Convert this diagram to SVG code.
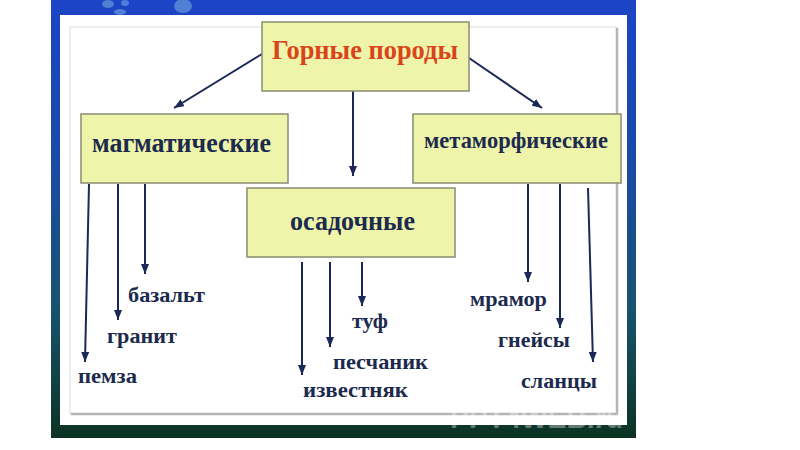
<svg xmlns="http://www.w3.org/2000/svg" width="800" height="450" viewBox="0 0 800 450">
<defs>
<linearGradient id="bg" x1="0" y1="0" x2="0" y2="1">
<stop offset="0" stop-color="#1c44c6"/>
<stop offset="0.35" stop-color="#1a4aa8"/>
<stop offset="0.7" stop-color="#175470"/>
<stop offset="1" stop-color="#0c3322"/>
</linearGradient>
<marker id="ah" viewBox="0 0 10 8" refX="10" refY="4" markerWidth="10" markerHeight="8" markerUnits="userSpaceOnUse" orient="auto">
<path d="M0,0 L10,4 L0,8 Z" fill="#1b2957"/>
</marker>
<style>
.box{fill:#eef5aa;stroke:#8a8c72;stroke-width:1.5}
.t{font-family:"Liberation Serif","DejaVu Serif",serif;font-weight:bold;fill:#1c2a4e}
.c line{stroke:#1b2957;stroke-width:2;marker-end:url(#ah)}
</style>
</defs>
<rect width="800" height="450" fill="#ffffff"/>
<rect x="51" y="0" width="585" height="438" fill="url(#bg)"/>
<g fill="#9fd8f0" opacity="0.4">
<ellipse cx="108" cy="4" rx="6" ry="4"/>
<ellipse cx="125" cy="3" rx="4" ry="3"/>
<ellipse cx="120" cy="12" rx="6" ry="3"/>
<ellipse cx="183" cy="6" rx="9" ry="7"/>
</g>
<rect x="60" y="15" width="567" height="410" fill="#ffffff"/>
<rect x="70" y="27" width="547" height="387" fill="#ffffff" stroke="#dcdcdc" stroke-width="1"/>
<path d="M617,28 V414 H71" fill="none" stroke="#b4b4b4" stroke-width="2.5"/>
<text x="450" y="428" font-family="'Liberation Sans',sans-serif" font-weight="bold" font-size="28" fill="#ffffff" opacity="0.35" textLength="173" lengthAdjust="spacingAndGlyphs">PPT4WEB.ru</text>

<g class="c" id="connectors">
<line x1="262" y1="54" x2="174" y2="108"/>
<line x1="469" y1="58" x2="542" y2="108"/>
<line x1="353" y1="91" x2="353" y2="176"/>
<line x1="145" y1="184" x2="145" y2="274"/>
<line x1="118" y1="184" x2="118" y2="320"/>
<line x1="89" y1="184" x2="85" y2="362"/>
<line x1="362" y1="262" x2="362" y2="306"/>
<line x1="330" y1="262" x2="330" y2="347"/>
<line x1="302" y1="262" x2="302" y2="375"/>
<line x1="528" y1="184" x2="528" y2="282"/>
<line x1="560" y1="184" x2="560" y2="328"/>
<line x1="588" y1="188" x2="593" y2="362"/>
</g>

<g id="gornye">
<rect class="box" x="262" y="22" width="207" height="69"/>
<text class="t" x="272" y="59" font-size="27" style="fill:#d9441a" textLength="186" lengthAdjust="spacingAndGlyphs">Горные породы</text>
</g>
<g id="magmaticheskie">
<rect class="box" x="81" y="114" width="207" height="69"/>
<text class="t" x="92" y="152" font-size="27" textLength="179" lengthAdjust="spacingAndGlyphs">магматические</text>
</g>
<g id="metamorficheskie">
<rect class="box" x="413" y="114" width="208" height="69"/>
<text class="t" x="424" y="148" font-size="23" textLength="184" lengthAdjust="spacingAndGlyphs">метаморфические</text>
</g>
<g id="osadochnye">
<rect class="box" x="247" y="188" width="208" height="69"/>
<text class="t" x="290" y="230" font-size="28" textLength="125" lengthAdjust="spacingAndGlyphs">осадочные</text>
</g>

<g id="bazalt"><text class="t" x="128" y="302" font-size="22" textLength="77" lengthAdjust="spacingAndGlyphs">базальт</text></g>
<g id="granit"><text class="t" x="107" y="343" font-size="22" textLength="70" lengthAdjust="spacingAndGlyphs">гранит</text></g>
<g id="pemza"><text class="t" x="78" y="383" font-size="22" textLength="59" lengthAdjust="spacingAndGlyphs">пемза</text></g>
<g id="tuf"><text class="t" x="352" y="328" font-size="22" textLength="36" lengthAdjust="spacingAndGlyphs">туф</text></g>
<g id="peschanik"><text class="t" x="333" y="369" font-size="22" textLength="95" lengthAdjust="spacingAndGlyphs">песчаник</text></g>
<g id="izvestnyak"><text class="t" x="303" y="397" font-size="22" textLength="105" lengthAdjust="spacingAndGlyphs">известняк</text></g>
<g id="mramor"><text class="t" x="470" y="306" font-size="22" textLength="77" lengthAdjust="spacingAndGlyphs">мрамор</text></g>
<g id="gneisy"><text class="t" x="498" y="347" font-size="22" textLength="72" lengthAdjust="spacingAndGlyphs">гнейсы</text></g>
<g id="slantsy"><text class="t" x="521" y="388" font-size="22" textLength="76" lengthAdjust="spacingAndGlyphs">сланцы</text></g>
</svg>
